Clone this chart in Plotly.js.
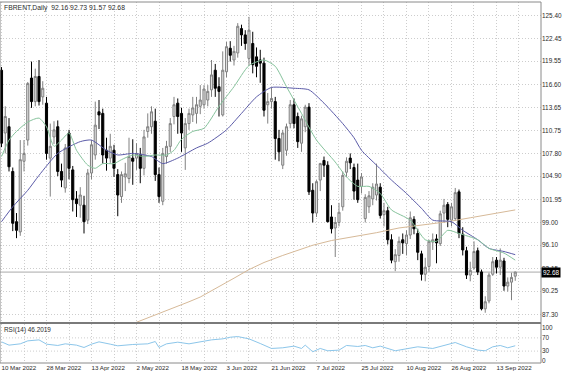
<!DOCTYPE html>
<html><head><meta charset="utf-8">
<script src="https://cdn.plot.ly/plotly-3.0.1.min.js"></script>
<style>html,body{margin:0;padding:0;background:#fff;}#chart{width:564px;height:376px;}</style>
</head><body><div id="chart"></div>
<script>
const symbol = 'FBRENT,Daily';
const xTickLabels = ['10 Mar 2022','28 Mar 2022','13 Apr 2022','2 May 2022','18 May 2022','3 Jun 2022','21 Jun 2022','7 Jul 2022','25 Jul 2022','10 Aug 2022','26 Aug 2022','13 Sep 2022'];
const barsPerLabel = 12;
const priceTicks = [125.40,122.45,119.55,116.60,113.65,110.75,107.80,104.90,101.95,99.00,96.10,93.15,90.25,87.30];
const rsiTicks = [100,70,30,0];
const rsiLevels = [70,30];

const open = [
118.4,110.4,111.2,105.5,99.1,97.8,106.8,109.5,117.4,114.4,
117.6,115.0,114.2,107.2,109.9,111.2,105.5,103.4,110.4,105.7,
102.0,101.2,101.2,99.3,105.3,107.6,113.1,112.9,108.2,107.2,
108.2,105.1,102.3,104.8,104.6,107.2,107.2,107.6,105.9,110.6,
111.2,111.9,105.1,101.7,107.4,108.7,112.5,114.2,112.9,108.5,
111.6,112.7,112.9,113.8,114.0,114.6,115.9,118.4,116.3,112.7,
118.2,121.2,119.7,120.6,123.7,122.9,119.9,121.8,120.1,119.7,
119.3,114.0,114.4,114.4,109.7,106.3,108.2,111.6,114.0,112.5,
109.1,111.2,113.7,103.1,100.2,104.4,106.9,106.3,99.7,98.3,
99.0,101.0,105.4,107.2,106.0,104.4,103.6,99.5,101.0,102.0,
102.5,103.5,100.0,100.5,96.8,94.0,94.8,96.8,96.3,97.4,
99.4,97.6,95.0,92.4,93.4,96.5,96.9,96.3,100.2,101.3,
99.3,99.5,102.9,97.5,95.4,92.3,93.2,95.4,92.7,88.0,
89.0,92.4,94.2,93.3,94.1,90.9,91.4,92.16];
const high = [
118.8,113.8,112.3,106.0,100.2,109.5,109.5,116.9,119.5,118.6,
119.7,117.0,115.0,111.6,111.9,112.0,106.5,109.0,110.8,106.2,
103.0,103.5,102.4,105.8,109.5,114.4,114.6,113.5,109.8,110.3,
108.9,105.8,105.5,106.6,109.8,109.6,109.1,108.5,110.8,112.9,
113.8,113.5,106.0,108.5,109.4,112.3,115.0,114.8,113.6,112.3,
113.5,115.0,115.0,116.5,116.5,116.5,119.7,119.2,117.5,120.8,
122.0,122.1,121.5,124.4,124.2,123.5,125.2,123.3,121.3,121.0,
120.0,115.5,116.2,115.0,110.8,110.8,111.6,114.6,114.8,113.0,
112.6,114.0,114.2,104.0,104.4,106.6,107.4,106.8,101.2,99.7,
101.5,105.5,107.3,107.8,106.5,106.5,105.3,102.6,103.0,104.0,
106.5,104.0,101.5,101.0,97.5,95.6,97.2,97.6,98.0,100.4,
99.8,98.2,95.4,94.5,96.8,97.6,97.5,100.5,102.0,101.6,
101.5,103.4,103.2,98.4,95.9,94.0,96.6,95.8,93.0,89.6,
92.6,94.6,94.6,95.7,94.5,92.0,92.6,92.73];
const low = [
108.6,107.8,105.5,97.9,97.0,97.3,105.5,108.8,113.6,113.8,
113.9,114.0,107.0,102.3,109.0,104.9,103.5,102.8,104.5,100.4,
99.7,99.6,97.6,98.8,104.5,107.0,110.9,106.5,105.6,106.6,
104.8,99.8,101.5,103.0,104.0,103.8,105.7,104.0,105.0,109.8,
110.3,104.3,101.5,101.2,106.5,108.0,111.5,110.3,108.0,105.7,
110.8,111.8,111.6,112.8,113.5,113.8,115.0,115.0,112.5,112.5,
117.5,119.5,119.0,120.0,121.5,121.0,119.0,118.0,117.5,116.8,
112.5,111.6,113.5,107.0,106.8,105.8,107.5,111.0,111.0,108.5,
108.0,110.5,102.5,99.0,99.7,103.0,104.8,99.0,97.6,94.6,
98.5,100.5,104.8,105.8,101.9,101.5,102.7,99.0,100.2,101.2,
101.8,99.5,98.5,96.2,93.8,92.8,94.0,95.0,94.8,96.9,
97.5,94.2,91.6,91.5,92.7,95.5,93.8,96.0,99.0,98.4,
98.5,99.2,97.0,94.8,91.8,91.5,93.0,92.3,87.8,87.5,
88.7,92.2,92.5,92.3,90.3,90.2,89.1,91.57];
const close = [
109.1,112.5,106.1,98.9,98.0,107.0,107.8,116.7,114.4,117.6,
114.4,116.1,107.8,108.7,110.8,105.5,104.4,108.5,105.9,101.9,
101.4,102.5,99.1,105.3,108.9,111.4,112.7,107.6,107.2,108.7,
105.9,102.5,105.1,105.2,107.4,106.8,107.8,105.9,109.9,111.2,
113.1,105.1,102.3,107.8,108.7,111.6,114.0,112.5,110.4,111.6,
112.9,113.6,114.0,114.6,116.0,115.7,117.8,116.1,115.7,118.4,
121.4,120.3,120.8,124.0,122.9,121.8,123.5,119.1,118.9,119.3,
113.3,114.4,114.8,109.7,108.0,110.4,111.2,114.0,111.6,109.3,
112.2,113.7,102.9,100.2,104.2,106.5,106.3,99.1,98.2,99.0,
100.3,105.0,106.8,106.6,103.0,101.9,104.8,102.2,102.4,103.5,
103.9,99.9,100.5,96.8,94.2,94.9,96.6,96.4,97.4,99.6,
98.2,95.2,92.4,93.3,96.6,96.8,96.4,100.1,101.2,99.4,
101.0,102.8,97.6,95.5,92.3,92.9,95.3,92.7,88.0,88.9,
92.3,94.0,93.3,94.2,90.9,91.4,92.0,92.68];

// moving averages (bar index, value)
const maFastBars = [0,2,4,7,10,12,14,16,18,20,23,25,27,30,32,35,38,41,44,46,48,51,54,58,62,66,70,73,76,80,84,89,92,95,98,101,104,109,113,116,119,122,127,130,134,137];
const maFastValues = [107.4,109.5,110.6,111.8,112.3,111.2,108.7,109.5,110.4,108.2,106.3,105.9,106.5,106.5,107.0,107.6,107.4,107.6,107.6,108.2,109.6,110.6,111.0,113.8,116.3,119.0,119.7,118.9,116.3,112.9,109.5,106.7,104.8,103.6,103.6,102.7,100.6,99.3,96.8,96.6,98.0,97.6,96.8,95.7,95.1,94.2];
const maMidBars = [0,3,7,10,15,21,24,28,31,35,40,43,47,52,55,60,64,68,72,78,82,86,91,94,96,100,104,108,112,115,120,123,127,130,134,137];
const maMidValues = [99.1,101.0,103.1,105.0,107.8,109.3,109.5,108.2,107.6,107.8,107.4,106.5,107.2,108.5,109.1,110.8,112.9,115.0,116.2,116.1,115.9,114.2,111.6,109.8,108.2,106.3,104.4,102.7,100.8,99.3,99.1,98.0,96.8,95.7,95.3,94.9];
const maSlowBars = [35,40,45,50,53,58,62,66,70,75,80,83,88,94,100,106,112,119,125,131,137];
const maSlowValues = [86.1,87.0,87.9,88.9,89.5,90.8,91.9,93.0,93.9,94.8,95.6,96.1,96.7,97.2,97.7,98.3,98.7,99.1,99.6,100.1,100.6];

// RSI(14) (bar index, value)
const rsiBars = [0,2,5,7,10,12,15,17,20,22,24,26,29,31,35,39,41,42,44,47,50,53,56,59,61,63,66,69,72,75,78,80,81,83,85,87,90,92,95,97,99,101,103,105,108,111,115,119,121,124,127,129,131,133,135,137];
const rsiValues = [58,48,52,61,64,51,47,52,48,41,51,58,51,46,50,52,59,41,52,57,52,58,64,67,72,74,67,53,38,40,45,38,48,28,38,31,33,47,44,47,40,45,37,31,37,43,38,50,56,43,33,31,43,47,40,46.2019];

const bars = open.map((_, i) => i);
const last = open.length - 1;
const bid = close[last];

const FONT = 'Liberation Sans, Arial, sans-serif';
const TXT = '#2a2a2a';
const GRID = '#cdcdcd';
const DASH = '1px,2px';

const tickVals = [], tickText = [];
for (let i = 0; i <= (xTickLabels.length) * barsPerLabel; i += barsPerLabel / 2) {
  tickVals.push(i);
  tickText.push(i % barsPerLabel === 0 && xTickLabels[i / barsPerLabel] ? xTickLabels[i / barsPerLabel] : '');
}

const traces = [
  {type:'candlestick', x:bars, open, high, low, close, xaxis:'x', yaxis:'y',
   increasing:{line:{color:'#808080', width:1}, fillcolor:'#dedede'},
   decreasing:{line:{color:'#000000', width:1}, fillcolor:'#000000'},
   whiskerwidth:0, hoverinfo:'skip', showlegend:false},
  {type:'scatter', mode:'lines', x:maSlowBars, y:maSlowValues, line:{color:'#d6b998', width:1}, xaxis:'x', yaxis:'y', hoverinfo:'skip'},
  {type:'scatter', mode:'lines', x:maMidBars, y:maMidValues, line:{color:'#5b5ba8', width:1, shape:'spline', smoothing:0.6}, xaxis:'x', yaxis:'y', hoverinfo:'skip'},
  {type:'scatter', mode:'lines', x:maFastBars, y:maFastValues, line:{color:'#86c39c', width:1, shape:'spline', smoothing:0.6}, xaxis:'x', yaxis:'y', hoverinfo:'skip'},
  {type:'scatter', mode:'lines', x:rsiBars, y:rsiValues, line:{color:'#8cc6ea', width:1}, xaxis:'x', yaxis:'y2', hoverinfo:'skip'}
];

const H = 376, mT = 2, mB = 13, plotH = H - mT - mB;
const mainBottomPx = 322, rsiTopPx = 324;
const mainDomLo = (H - mB - mainBottomPx) / plotH;
const rsiDomHi = (H - mB - rsiTopPx) / plotH;

const shapes = [];
rsiLevels.forEach(v => shapes.push({type:'line', xref:'paper', x0:0, x1:1, yref:'y2', y0:v, y1:v, line:{color:GRID, width:1, dash:DASH}, layer:'below'}));
shapes.push({type:'line', xref:'paper', x0:0, x1:1, yref:'y', y0:bid, y1:bid, line:{color:'#a9a9a9', width:1}, layer:'below'});
// panel frames
shapes.push({type:'rect', xref:'paper', yref:'paper', x0:0, x1:1, y0:rsiDomHi, y1:mainDomLo, line:{width:0}, fillcolor:'#7a7a7a'});
shapes.push({type:'line', xref:'paper', yref:'paper', x0:0, x1:1, y0:1, y1:1, line:{color:'#8a8a8a', width:1}});
shapes.push({type:'line', xref:'paper', yref:'paper', x0:1, x1:1, y0:0, y1:1, line:{color:'#8a8a8a', width:1}});
shapes.push({type:'line', xref:'paper', yref:'paper', x0:0, x1:1, y0:0, y1:0, line:{color:'#8a8a8a', width:1}});
shapes.push({type:'line', xref:'paper', yref:'paper', x0:0, x1:0, y0:0, y1:1, line:{color:'#8a8a8a', width:1}});

const nb = '\u00a0';
const annotations = [
  {xref:'paper', yref:'paper', x:0, y:1, xanchor:'left', yanchor:'top', xshift:2, yshift:0, showarrow:false,
   text: symbol + nb + nb + [open[last], high[last], low[last], close[last]].map(v => v.toFixed(2)).join(nb),
   font:{family:FONT, size:6.8, color:TXT}},
  {xref:'paper', yref:'paper', x:0, y:(H - mB - 329.5) / plotH, xanchor:'left', yanchor:'middle', xshift:2, showarrow:false,
   text:'RSI(14) ' + rsiValues[rsiValues.length - 1].toFixed(4), font:{family:FONT, size:6.4, color:TXT}},
  {xref:'paper', yref:'y', x:1, y:bid, xanchor:'left', yanchor:'middle', showarrow:false, text:bid.toFixed(2),
   bgcolor:'#000000', borderpad:1, font:{family:FONT, size:6.4, color:'#ffffff'}}
];

const layout = {
  width:564, height:376, margin:{l:0, r:23, t:mT, b:mB, pad:0},
  paper_bgcolor:'#ffffff', plot_bgcolor:'#ffffff', showlegend:false, boxgap:0.2,
  font:{family:FONT, size:6.4, color:TXT},
  xaxis:{anchor:'y2', range:[-0.4, 143.87], tickmode:'array', tickvals:tickVals, ticktext:tickText,
         ticklabelposition:'outside right', ticks:'', showgrid:true, gridcolor:GRID, griddash:DASH,
         zeroline:false, showline:false, rangeslider:{visible:false}, fixedrange:true,
         tickfont:{family:FONT, size:6.2, color:TXT}},
  yaxis:{domain:[mainDomLo, 1], range:[86.32, 127.09], side:'right', tickmode:'array', tickvals:priceTicks,
         ticktext:priceTicks.map(v => v.toFixed(2)), ticks:'', showgrid:true, gridcolor:GRID, griddash:DASH,
         zeroline:false, showline:false, fixedrange:true, tickfont:{family:FONT, size:6.4, color:TXT}},
  yaxis2:{domain:[0, rsiDomHi], range:[-6, 112], side:'right', tickmode:'array', tickvals:rsiTicks,
         ticktext:rsiTicks.map(String), ticks:'', showgrid:false, zeroline:false, showline:false, fixedrange:true,
         tickfont:{family:FONT, size:6.4, color:TXT}},
  shapes, annotations
};

Plotly.newPlot('chart', traces, layout, {staticPlot:true, displayModeBar:false});
</script></body></html>
